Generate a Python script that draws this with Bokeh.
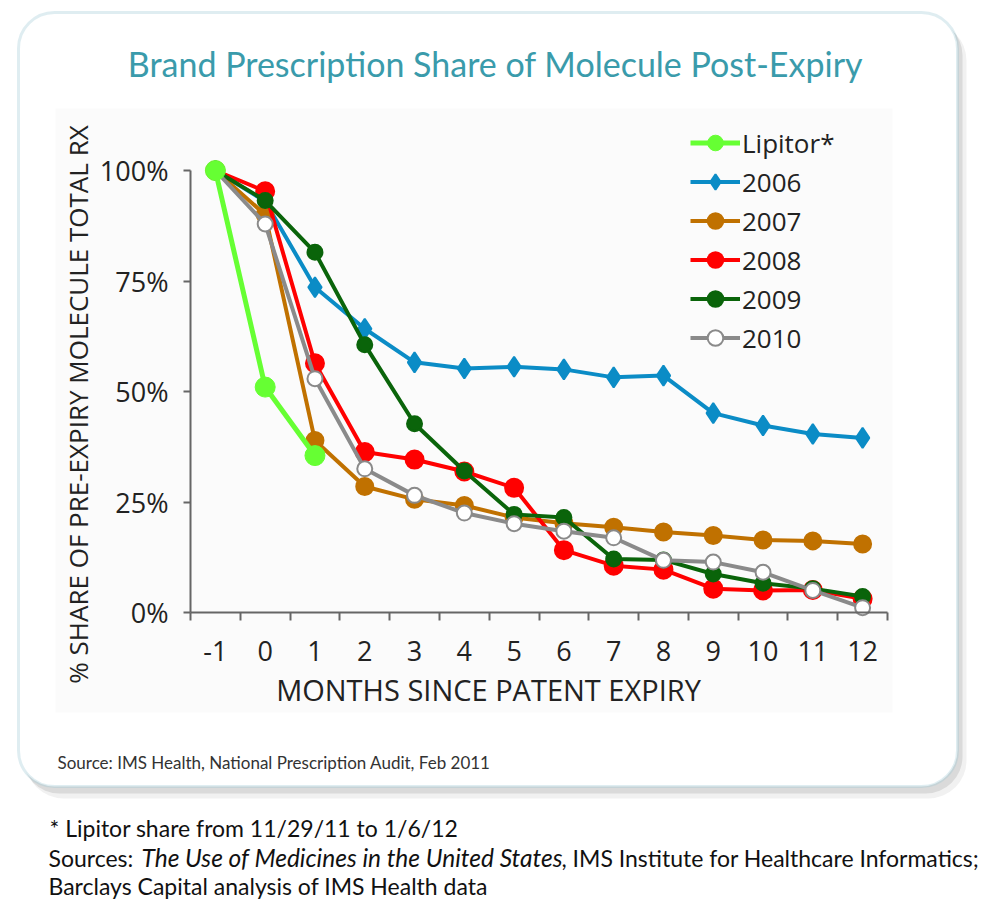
import math
from bokeh.plotting import figure
from bokeh.models import (ColumnDataSource, Range1d, FixedTicker, NumeralTickFormatter,
                          Legend, LegendItem, Label, BoxAnnotation)
from bokeh.embed import file_html
from bokeh.resources import INLINE

# ---------------- data (percent of pre-expiry molecule total Rx) ----------------
months = [-1, 0, 1, 2, 3, 4, 5, 6, 7, 8, 9, 10, 11, 12]
tick_labels = ["-1", "0", "1", "2", "3", "4", "5", "6", "7", "8", "9", "10", "11", "12"]
lipitor_months = [-1, 0, 1]
lipitor = [100, 51, 35.5]
share_2006 = [100, 93, 73.6, 64.2, 56.6, 55.2, 55.6, 55.0, 53.2, 53.6, 45.1, 42.3, 40.4, 39.5]
share_2007 = [100, 90, 38.9, 28.5, 25.6, 24.2, 21.5, 20.2, 19.3, 18.2, 17.4, 16.4, 16.2, 15.5]
share_2008 = [100, 95.3, 56.4, 36.3, 34.6, 31.9, 28.2, 14.1, 10.6, 9.7, 5.4, 5.0, 5.1, 3.1]
share_2009 = [100, 93.2, 81.5, 60.6, 42.7, 32.0, 22.2, 21.5, 12.1, 11.9, 8.7, 6.6, 5.4, 3.6]
share_2010 = [100, 87.9, 52.9, 32.5, 26.5, 22.5, 20.1, 18.4, 16.9, 11.8, 11.4, 9.1, 5.0, 1.1]
y_ticks = [0, 25, 50, 75, 100]

# ---------------- canvas geometry (pixels) ----------------
W, H = 995, 900
AX_LEFT, AX_RIGHT = 190, 887      # x axis from -1.5 to 12.5
AX_ZERO, AX_FULL = 612, 170       # y = 0% and y = 100%
X_LO, X_HI = -1.5, 12.5
xs = (AX_RIGHT - AX_LEFT) / (X_HI - X_LO)
ys = (AX_ZERO - AX_FULL) / 1.0
x_range = Range1d(X_LO - AX_LEFT / xs, X_HI + (W - AX_RIGHT) / xs)
y_range = Range1d(-(H - AX_ZERO) / ys, AX_ZERO / ys)

FONT = "Open Sans"
TXT = "#222222"
AXC = "#666666"

p = figure(width=W, height=H, x_range=x_range, y_range=y_range,
           output_backend="svg", toolbar_location=None, title_location=None,
           min_border=0, min_border_left=0, min_border_right=0,
           min_border_top=0, min_border_bottom=0)
p.background_fill_color = "white"
p.border_fill_color = "white"
p.outline_line_color = None
p.xgrid.visible = False
p.ygrid.visible = False


def sbox(left, top, right, bottom, **kw):
    """Box annotation given in top-down page pixels."""
    b = BoxAnnotation(left=left, right=right, top=H - top, bottom=H - bottom,
                      left_units="screen", right_units="screen",
                      top_units="screen", bottom_units="screen", level="underlay", **kw)
    p.add_layout(b)


# ---------------- rounded frame box with soft shadow ----------------
sbox(25, 22, 966, 798, fill_color="#8a8a8a", fill_alpha=0.12, line_color=None, border_radius=38)
sbox(22, 18, 962, 793, fill_color="#8a8a8a", fill_alpha=0.22, line_color=None, border_radius=37)
sbox(18, 12, 957, 786, fill_color="white", fill_alpha=1.0, line_color="#94c4cf",
     line_width=3, border_radius=36)
sbox(55, 108, 892, 712, fill_color="#fbfbfb", fill_alpha=1.0, line_color=None)

# ---------------- series ----------------
def frac(vals):
    return [v / 100.0 for v in vals]

series = [
    ("2006", share_2006, "#0b8cc6", "diamond", 20, "#0b8cc6"),
    ("2007", share_2007, "#c07100", "circle", 17, "#c07100"),
    ("2008", share_2008, "#ff0000", "circle", 18, "#ff0000"),
    ("2009", share_2009, "#0a640a", "circle", 15, "#0a640a"),
    ("2010", share_2010, "#8a8a8a", "circle", 15, "white"),
]
items = {}
for name, vals, col, marker, size, fill in series:
    src = ColumnDataSource(dict(x=months, y=frac(vals)))
    r1 = p.line("x", "y", source=src, line_color=col, line_width=4)
    r2 = p.scatter("x", "y", source=src, marker=marker, size=size, fill_color=fill,
                   line_color=col, line_width=2)
    items[name] = [r1, r2]

lsrc = ColumnDataSource(dict(x=lipitor_months, y=frac(lipitor)))
l1 = p.line("x", "y", source=lsrc, line_color="#66ff33", line_width=5)
l2 = p.scatter("x", "y", source=lsrc, marker="circle", size=20, fill_color="#66ff33",
               line_color="#66ff33")
items["Lipitor*"] = [l1, l2]

# ---------------- axes (drawn at fixed data locations) ----------------
xa = p.xaxis[0]
xa.fixed_location = 0
xa.bounds = (X_LO, X_HI)
xa.ticker = FixedTicker(ticks=months, minor_ticks=[m - 0.5 for m in months] + [X_HI])
xa.major_label_overrides = {m: t for m, t in zip(months, tick_labels)}
xa.major_tick_out = 0
xa.major_tick_in = 0
xa.minor_tick_out = 8
xa.minor_tick_in = 0
xa.minor_tick_line_color = AXC
xa.minor_tick_line_width = 2
xa.axis_line_color = AXC
xa.axis_line_width = 2
xa.major_label_standoff = 20
xa.major_label_text_font = FONT
xa.major_label_text_font_size = "27px"
xa.major_label_text_color = TXT

ya = p.yaxis[0]
ya.fixed_location = X_LO
ya.bounds = (0, 1)
ya.ticker = FixedTicker(ticks=[t / 100 for t in y_ticks], minor_ticks=[])
ya.formatter = NumeralTickFormatter(format="0%")
ya.major_tick_out = 7
ya.major_tick_in = 0
ya.major_tick_line_color = AXC
ya.major_tick_line_width = 2
ya.minor_tick_line_color = None
ya.axis_line_color = AXC
ya.axis_line_width = 2
ya.major_label_standoff = 15
ya.major_label_text_font = FONT
ya.major_label_text_font_size = "27px"
ya.major_label_text_color = TXT

# ---------------- legend ----------------
legend = Legend(items=[LegendItem(label=k, renderers=items[k]) for k in
                       ["Lipitor*", "2006", "2007", "2008", "2009", "2010"]],
                location=(690, H - 357), orientation="vertical",
                border_line_color=None, background_fill_alpha=0.0,
                padding=0, margin=0, spacing=0,
                glyph_width=50, glyph_height=39, label_height=39, label_standoff=2,
                label_text_font=FONT, label_text_font_size="26px", label_text_color=TXT)
p.add_layout(legend)


# ---------------- texts (top-down page pixels) ----------------
def lab(text, x, y, size, color=TXT, font=FONT, align="left", base="middle",
        style="normal", angle=0):
    p.add_layout(Label(text=text, x=x, y=H - y, x_units="screen", y_units="screen",
                       text_font=font, text_font_size=size, text_color=color,
                       text_align=align, text_baseline=base, text_font_style=style,
                       angle=angle))


lab("Brand Prescription Share of Molecule Post-Expiry", 495, 63, "34px", color="#3a9bab",
    font="Lato", align="center")
lab("% SHARE OF PRE-EXPIRY MOLECULE TOTAL RX", 77, 404, "26px", align="center",
    angle=math.pi / 2)
lab("MONTHS SINCE PATENT EXPIRY", 488, 689, "29px", align="center")
lab("Source: IMS Health, National Prescription Audit, Feb 2011", 57, 762, "17px",
    color="#333333", font="Lato")
lab("* Lipitor share from 11/29/11 to 1/6/12", 49, 827, "23px", color="#111111",
    font="Lato", base="alphabetic")
lab("Sources: ", 48, 857, "23px", color="#111111", font="Lato", base="alphabetic")
lab("The Use of Medicines in the United States", 141, 857, "24.5px", color="#111111",
    font="Lato", base="alphabetic", style="italic")
lab(", IMS Institute for Healthcare Informatics;", 561, 857, "23px", color="#111111",
    font="Lato", base="alphabetic")
lab("Barclays Capital analysis of IMS Health data", 48, 885, "23px", color="#111111",
    font="Lato", base="alphabetic")

open("out.html", "w").write(file_html(p, INLINE))
